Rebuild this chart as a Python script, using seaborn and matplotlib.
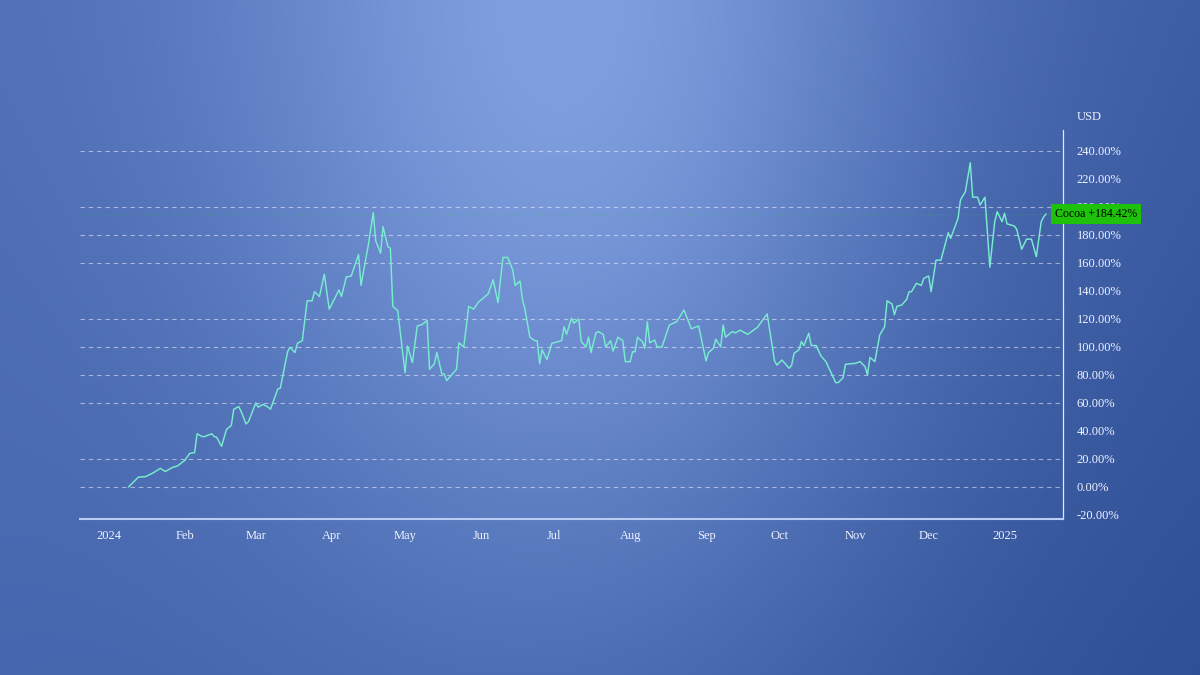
import numpy as np
import pandas as pd
import seaborn as sns
import matplotlib
matplotlib.use('Agg')
import matplotlib.pyplot as plt
import matplotlib.dates as mdates
from matplotlib.transforms import blended_transform_factory

# Cocoa, % change since first point
dates = [
    '2024-01-09', '2024-01-13', '2024-01-16', '2024-01-19', '2024-01-22', '2024-01-24', '2024-01-27', '2024-01-29',
    '2024-02-01', '2024-02-03', '2024-02-05', '2024-02-06', '2024-02-08', '2024-02-09', '2024-02-12', '2024-02-13',
    '2024-02-14', '2024-02-16', '2024-02-18', '2024-02-20', '2024-02-21', '2024-02-23', '2024-02-24', '2024-02-26',
    '2024-02-27', '2024-03-01', '2024-03-02', '2024-03-04', '2024-03-06', '2024-03-07', '2024-03-10', '2024-03-11',
    '2024-03-14', '2024-03-15', '2024-03-17', '2024-03-18', '2024-03-20', '2024-03-22', '2024-03-24', '2024-03-25',
    '2024-03-27', '2024-03-29', '2024-03-31', '2024-04-04', '2024-04-05', '2024-04-07', '2024-04-09', '2024-04-12',
    '2024-04-13', '2024-04-16', '2024-04-18', '2024-04-19', '2024-04-21', '2024-04-22', '2024-04-24', '2024-04-25',
    '2024-04-26', '2024-04-28', '2024-05-01', '2024-05-02', '2024-05-04', '2024-05-06', '2024-05-08', '2024-05-10',
    '2024-05-11', '2024-05-13', '2024-05-14', '2024-05-16', '2024-05-17', '2024-05-18', '2024-05-22', '2024-05-23',
    '2024-05-25', '2024-05-27', '2024-05-29', '2024-05-31', '2024-06-04', '2024-06-06', '2024-06-08', '2024-06-10',
    '2024-06-12', '2024-06-14', '2024-06-15', '2024-06-17', '2024-06-18', '2024-06-19', '2024-06-21', '2024-06-23',
    '2024-06-24', '2024-06-25', '2024-06-26', '2024-06-28', '2024-06-30', '2024-07-04', '2024-07-05', '2024-07-06',
    '2024-07-08', '2024-07-09', '2024-07-11', '2024-07-12', '2024-07-14', '2024-07-15', '2024-07-16', '2024-07-18',
    '2024-07-19', '2024-07-21', '2024-07-22', '2024-07-24', '2024-07-25', '2024-07-27', '2024-07-29', '2024-07-30',
    '2024-08-01', '2024-08-02', '2024-08-03', '2024-08-04', '2024-08-06', '2024-08-07', '2024-08-08', '2024-08-09',
    '2024-08-11', '2024-08-12', '2024-08-14', '2024-08-17', '2024-08-20', '2024-08-23', '2024-08-26', '2024-08-29',
    '2024-09-01', '2024-09-02', '2024-09-04', '2024-09-05', '2024-09-07', '2024-09-08', '2024-09-09', '2024-09-11',
    '2024-09-12', '2024-09-13', '2024-09-15', '2024-09-18', '2024-09-22', '2024-09-26', '2024-09-29', '2024-09-30',
    '2024-10-02', '2024-10-05', '2024-10-06', '2024-10-07', '2024-10-09', '2024-10-10', '2024-10-11', '2024-10-13',
    '2024-10-14', '2024-10-16', '2024-10-18', '2024-10-20', '2024-10-24', '2024-10-25', '2024-10-27', '2024-10-28',
    '2024-11-01', '2024-11-03', '2024-11-05', '2024-11-06', '2024-11-07', '2024-11-09', '2024-11-11', '2024-11-13',
    '2024-11-14', '2024-11-16', '2024-11-17', '2024-11-18', '2024-11-20', '2024-11-22', '2024-11-23', '2024-11-24',
    '2024-11-26', '2024-11-28', '2024-11-29', '2024-12-01', '2024-12-02', '2024-12-04', '2024-12-06', '2024-12-09',
    '2024-12-10', '2024-12-13', '2024-12-14', '2024-12-16', '2024-12-18', '2024-12-19', '2024-12-21', '2024-12-22',
    '2024-12-24', '2024-12-26', '2024-12-28', '2024-12-29', '2024-12-31', '2025-01-01', '2025-01-02', '2025-01-05',
    '2025-01-06', '2025-01-08', '2025-01-10', '2025-01-12', '2025-01-14', '2025-01-16', '2025-01-17', '2025-01-18',
]
cocoa_pct = [
    0.0, 7.0, 7.4, 10.0, 13.3, 11.0, 14.0, 15.0,
    19.0, 24.0, 24.5, 38.0, 36.0, 36.0, 38.0, 36.0,
    35.5, 29.0, 41.0, 44.0, 55.5, 57.4, 54.0, 45.0,
    46.6, 60.0, 57.0, 59.0, 57.0, 55.5, 70.0, 70.5,
    96.6, 99.8, 96.0, 102.6, 104.5, 133.0, 133.0, 139.5,
    136.0, 152.0, 127.0, 140.7, 136.0, 150.0, 150.7, 166.0,
    144.0, 173.0, 196.0, 176.0, 167.0, 186.0, 171.6, 170.5,
    129.0, 126.0, 81.6, 100.7, 88.8, 115.0, 116.0, 119.0,
    84.0, 88.0, 96.0, 81.0, 80.7, 76.0, 84.0, 103.0,
    100.0, 129.0, 127.0, 132.0, 138.0, 148.0, 131.6, 164.0,
    164.0, 155.0, 144.0, 147.0, 133.6, 127.0, 107.0, 104.5,
    104.5, 88.0, 98.0, 91.0, 102.6, 104.5, 114.5, 109.0,
    120.5, 117.0, 120.0, 103.8, 100.0, 107.0, 96.0, 110.0,
    111.0, 109.0, 100.0, 104.5, 97.0, 107.0, 104.5, 89.5,
    89.5, 96.6, 96.6, 107.0, 103.8, 99.0, 118.0, 103.0,
    105.0, 100.0, 100.0, 115.7, 118.0, 126.4, 113.0, 115.0,
    90.0, 96.0, 99.0, 105.5, 100.0, 115.7, 107.0, 110.0,
    111.0, 110.0, 112.0, 109.0, 114.0, 123.6, 90.0, 87.0,
    90.7, 84.8, 87.0, 95.5, 98.0, 103.8, 101.0, 109.8,
    101.0, 101.0, 93.6, 89.5, 74.5, 74.5, 78.0, 87.6,
    88.3, 89.5, 86.0, 80.0, 92.6, 89.5, 108.6, 114.5,
    133.0, 130.7, 123.0, 129.0, 130.0, 134.0, 139.5, 139.5,
    145.5, 144.0, 149.0, 150.7, 139.5, 162.0, 162.0, 181.6,
    177.6, 192.0, 205.0, 211.0, 231.6, 207.0, 207.0, 201.4,
    207.0, 157.0, 189.5, 196.6, 189.5, 195.5, 188.0, 186.4,
    184.0, 169.8, 177.0, 177.0, 164.5, 189.5, 193.0, 195.0,
]
series_label = 'Cocoa +184.42%'
y_ticks = list(range(-20, 241, 20))
grid_levels = [0, 20, 60, 80, 100, 120, 160, 180, 200, 240]

df = pd.DataFrame({'date': pd.to_datetime(dates), 'pct': cocoa_pct})

sns.set_theme(style='white')
plt.rcParams['font.family'] = ['Liberation Serif', 'DejaVu Serif']

fig = plt.figure(figsize=(12, 6.75), dpi=100)

# background: blue with a soft light glow near the top centre
H, W = 675, 1200
yy, xx = np.mgrid[0:H, 0:W]
u = xx / (W - 1)
v = yy / (H - 1)
tl = np.array([79, 109, 181])
tr = np.array([59, 91, 163])
bl = np.array([69, 102, 174])
br = np.array([47, 79, 149])
base = ((1 - u)[..., None] * (1 - v)[..., None] * tl + u[..., None] * (1 - v)[..., None] * tr
        + (1 - u)[..., None] * v[..., None] * bl + u[..., None] * v[..., None] * br)
glow = np.exp(-(((xx - 560) / 350.0) ** 2 + (yy / 600.0) ** 2))
centre = np.array([127, 159, 224])
img = base + (centre - base) * glow[..., None]
bg = fig.add_axes([0, 0, 1, 1], zorder=-1)
bg.imshow(img / 255.0, aspect='auto', extent=(0, 1, 0, 1))
bg.axis('off')

ax = fig.add_axes([80 / 1200, 1 - 519 / 675, 983 / 1200, 389 / 675])
ax.set_facecolor('none')

for lvl in grid_levels:
    ax.axhline(lvl, color='white', alpha=0.5, lw=0.8, ls=(0, (4, 3.5)), zorder=1)

last_val = df['pct'].iloc[-1]
ax.axhline(last_val, color='#3fcf3f', alpha=0.35, lw=0.9, ls=(0, (1, 2)), zorder=1)

sns.lineplot(data=df, x='date', y='pct', ax=ax, color='#78ecce', linewidth=1.05, zorder=3)

start = mdates.date2num(pd.Timestamp('2024-01-01'))
ax.set_xlim(start - 11.85, start + 389.9)
ax.set_ylim(-22.9, 255)

ax.xaxis.set_major_locator(mdates.MonthLocator())
ax.xaxis.set_major_formatter(plt.FuncFormatter(
    lambda x, pos: mdates.num2date(x).strftime('%Y' if mdates.num2date(x).month == 1 else '%b')))
ax.yaxis.tick_right()
ax.set_yticks(y_ticks)
ax.set_yticklabels([f'{t:.2f}%' for t in y_ticks])
ax.tick_params(axis='y', length=0, pad=10, labelsize=9, labelcolor='#eef2ff')
ax.tick_params(axis='x', length=0, pad=8, labelsize=9, labelcolor='#eef2ff')
ax.set_xlabel('')
ax.set_ylabel('')

for side in ['left', 'top']:
    ax.spines[side].set_visible(False)
ax.spines['bottom'].set_color('#b8ccf4')
ax.spines['bottom'].set_linewidth(1.5)
ax.spines['right'].set_color('#dfe7fb')
ax.spines['right'].set_linewidth(0.9)

ax.text(1.0142, 1.0334, 'USD', transform=ax.transAxes, ha='left', va='center',
        fontsize=9, color='#eef2ff')

# price tag for the last value, drawn over the right scale as in the original
trans = blended_transform_factory(ax.transAxes, ax.transData)
ax.text(0.992, last_val, series_label, transform=trans, ha='left', va='center',
        fontsize=8.5, color='black', zorder=5, clip_on=False,
        bbox=dict(boxstyle='square,pad=0.35', fc='#1fc20a', ec='none'))

fig.savefig('out.png', dpi=100)
